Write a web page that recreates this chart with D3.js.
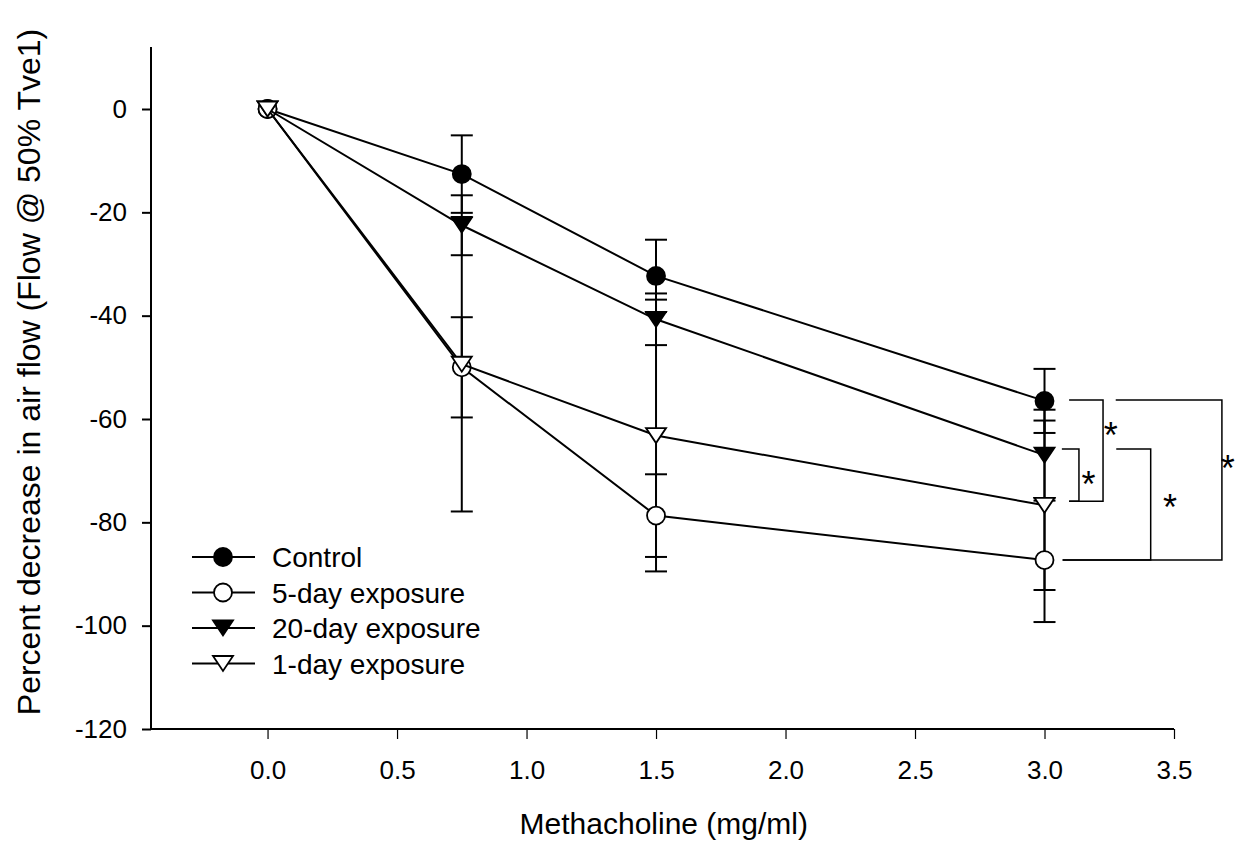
<!DOCTYPE html>
<html>
<head>
<meta charset="utf-8">
<script src="https://cdn.jsdelivr.net/npm/d3@7"></script>
<style>
  body { margin: 0; background: #fff; }
  svg { font-family: Arial, "Liberation Sans", sans-serif; }
</style>
</head>
<body>
<div id="chart"></div>
<script>
// Doses (x values)
const doses = [0, 0.75, 1.5, 3.0];

// Series means and error (SD) values
const controlMean = [0, -12.6, -32.3, -56.5];
const controlErr = [0, 7.5, 7.0, 6.2];
const day5Mean = [0, -50.0, -78.7, -87.3];
const day5Err = [0, 9.7, 8.0, 12.0];
const day20Mean = [0, -22.5, -40.7, -67.0];
const day20Err = [0, 5.8, 5.0, 8.8];
const day1Mean = [0, -49.4, -63.2, -76.7];
const day1Err = [0, 28.5, 26.3, 16.4];

const seriesNames = ["Control", "5-day exposure", "20-day exposure", "1-day exposure"];

// Axis ticks
const xTicks = [0, 0.5, 1.0, 1.5, 2.0, 2.5, 3.0, 3.5];
const yTicks = [0, -20, -40, -60, -80, -100, -120];

// Significance brackets at 3.0 mg/ml: levels (y) and x positions in dose units
const bracketTop = [-56.3, -65.8, -65.8, -56.3];
const bracketBottom = [-75.9, -75.9, -87.3, -87.3];
const bracketTopStart = [3.095, 3.067, 3.277, 3.275];
const bracketBottomStart = [3.095, 3.095, 3.07, 3.07];
const bracketVertX = [3.226, 3.133, 3.41, 3.685];
const starX = [3.256, 3.17, 3.485, 3.708];
const starY = [-61.6, -71.0, -75.5, -68.0];

document.addEventListener('DOMContentLoaded', function () {

    const width = 1236;
    const height = 846;

    const svg = d3.create("svg")
        .attr("width", width)
        .attr("height", height);
    document.getElementById("chart").append(svg.node());

    // Scales
    const x = d3.scaleLinear().domain([-0.45, 3.5]).range([151, 1174]);
    const y = d3.scaleLinear().domain([-120, 12]).range([729, 47]);

    // Y axis
    const gy = svg.append("g")
        .attr("transform", `translate(${x(-0.45)},0)`)
        .call(d3.axisLeft(y).tickValues(yTicks).tickFormat(d => String(d))
            .tickSize(9).tickPadding(15).tickSizeOuter(0));
    gy.select(".domain").attr("stroke-width", 2).attr("d", `M0,${y(12)}V${y(-120)}`);
    gy.selectAll(".tick line").attr("stroke-width", 2);
    gy.selectAll(".tick text").attr("font-size", 26).attr("fill", "#000");

    // X axis
    const gx = svg.append("g")
        .attr("transform", `translate(0,${y(-120)})`)
        .call(d3.axisBottom(x).tickValues(xTicks).tickFormat(d3.format(".1f"))
            .tickSize(10).tickPadding(22).tickSizeOuter(0));
    gx.select(".domain").attr("stroke-width", 2).attr("d", `M${x(-0.45)},0H${x(3.5)}`);
    gx.selectAll(".tick line").attr("stroke-width", 1.2);
    gx.selectAll(".tick text").attr("font-size", 26).attr("fill", "#000");

    // Axis titles
    svg.append("text")
        .attr("x", x(1.53))
        .attr("y", 834)
        .attr("text-anchor", "middle")
        .attr("font-size", 30)
        .text("Methacholine (mg/ml)");

    svg.append("text")
        .attr("transform", "rotate(-90)")
        .attr("x", -372)
        .attr("y", 40)
        .attr("text-anchor", "middle")
        .attr("font-size", 32)
        .text("Percent decrease in air flow (Flow @ 50% Tve1)");

    // Marker drawing
    const triDown = (s) => `M${-s},${-s * 0.75}L${s},${-s * 0.75}L0,${s * 0.75}Z`;
    function drawMarker(g, type, cx, cy) {
        if (type === "circle-filled" || type === "circle-open") {
            g.append("circle")
                .attr("cx", cx).attr("cy", cy).attr("r", 9)
                .attr("fill", type === "circle-filled" ? "#000" : "#fff")
                .attr("stroke", "#000").attr("stroke-width", 1.8);
        } else {
            g.append("path")
                .attr("transform", `translate(${cx},${cy})`)
                .attr("d", triDown(10))
                .attr("fill", type === "tri-filled" ? "#000" : "#fff")
                .attr("stroke", "#000").attr("stroke-width", 1.8)
                .attr("stroke-linejoin", "miter");
        }
    }

    const series = [
        { name: seriesNames[0], mean: controlMean, err: controlErr, marker: "circle-filled" },
        { name: seriesNames[1], mean: day5Mean, err: day5Err, marker: "circle-open" },
        { name: seriesNames[2], mean: day20Mean, err: day20Err, marker: "tri-filled" },
        { name: seriesNames[3], mean: day1Mean, err: day1Err, marker: "tri-open" }
    ];

    const line = d3.line()
        .x((d, i) => x(doses[i]))
        .y(d => y(d));

    // Error bars first
    series.forEach(s => {
        const g = svg.append("g").attr("stroke", "#000").attr("stroke-width", 2);
        s.mean.forEach((m, i) => {
            if (s.err[i] === 0) return;
            const cx = x(doses[i]);
            const hi = y(m + s.err[i]);
            const lo = y(m - s.err[i]);
            g.append("line").attr("x1", cx).attr("x2", cx).attr("y1", hi).attr("y2", lo);
            g.append("line").attr("x1", cx - 11).attr("x2", cx + 11).attr("y1", hi).attr("y2", hi);
            g.append("line").attr("x1", cx - 11).attr("x2", cx + 11).attr("y1", lo).attr("y2", lo);
        });
    });

    // Lines and markers
    series.forEach(s => {
        const g = svg.append("g");
        g.append("path")
            .datum(s.mean)
            .attr("d", line)
            .attr("fill", "none")
            .attr("stroke", "#000")
            .attr("stroke-width", 2);
        s.mean.forEach((m, i) => drawMarker(g, s.marker, x(doses[i]), y(m)));
    });

    // Significance brackets
    const gb = svg.append("g").attr("fill", "none").attr("stroke", "#000").attr("stroke-width", 1.5);
    bracketTop.forEach((t, i) => {
        gb.append("path")
            .attr("d", `M${x(bracketTopStart[i])},${y(t)}H${x(bracketVertX[i])}V${y(bracketBottom[i])}H${x(bracketBottomStart[i])}`);
        svg.append("text")
            .attr("x", x(starX[i]))
            .attr("y", y(starY[i]) + 21)
            .attr("text-anchor", "middle")
            .attr("font-size", 36)
            .text("*");
    });

    // Legend
    const legend = svg.append("g").attr("transform", "translate(192,557)");
    series.forEach((s, i) => {
        const row = legend.append("g").attr("transform", `translate(0,${i * 35.5})`);
        row.append("line")
            .attr("x1", 0).attr("x2", 63).attr("y1", 0).attr("y2", 0)
            .attr("stroke", "#000").attr("stroke-width", 2);
        drawMarker(row, s.marker, 31, 0);
        row.append("text")
            .attr("x", 80)
            .attr("y", 10)
            .attr("font-size", 28)
            .text(s.name);
    });
});
</script>
</body>
</html>
